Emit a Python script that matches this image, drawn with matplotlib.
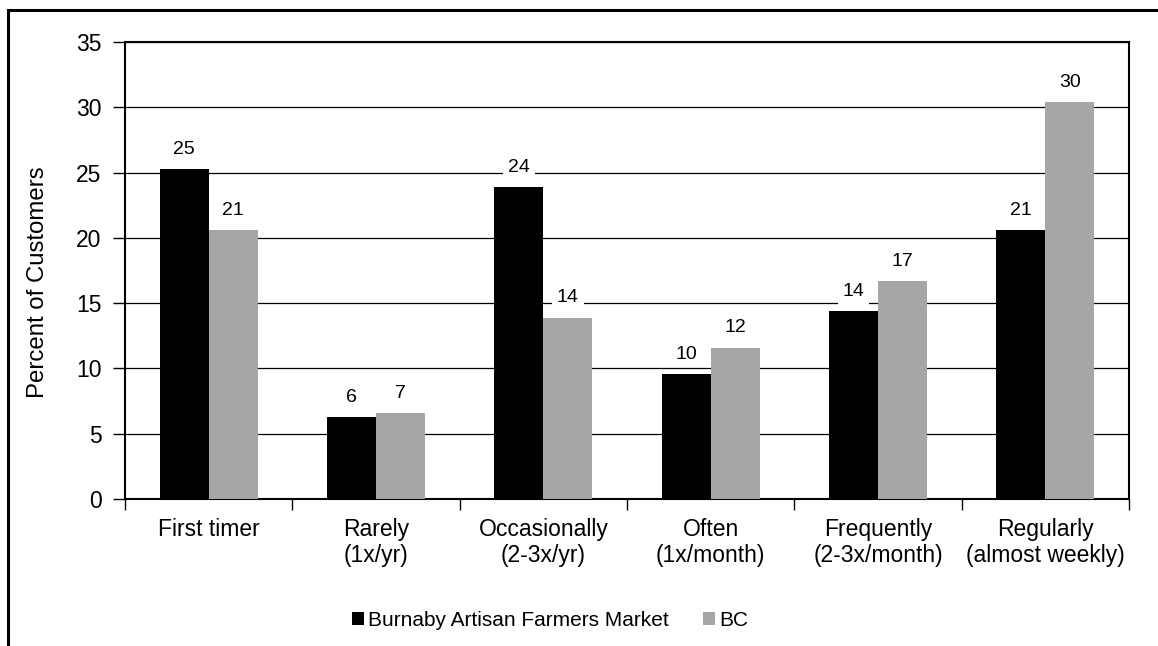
import numpy as np
import matplotlib
matplotlib.use("Agg")
import matplotlib.pyplot as plt
from matplotlib.lines import Line2D

plt.rcParams['font.family'] = ['Liberation Sans', 'DejaVu Sans']

categories = ['First timer', 'Rarely\n(1x/yr)', 'Occasionally\n(2-3x/yr)',
              'Often\n(1x/month)', 'Frequently\n(2-3x/month)', 'Regularly\n(almost weekly)']
burnaby = [25.3, 6.3, 23.9, 9.6, 14.4, 20.6]
bc = [20.6, 6.6, 13.9, 11.6, 16.7, 30.4]
series_names = ['Burnaby Artisan Farmers Market', 'BC']

fig = plt.figure(figsize=(11.58, 6.46), dpi=100)
ax = fig.add_axes([125 / 1158, 1 - 499 / 646, (1129 - 125) / 1158, (499 - 42) / 646])

x = np.arange(len(categories))
w = 0.293
b1 = ax.bar(x - w / 2, burnaby, w, color='black', label=series_names[0], zorder=3)
b2 = ax.bar(x + w / 2, bc, w, color='#a6a6a6', label=series_names[1], zorder=3)

for bars, vals in ((b1, burnaby), (b2, bc)):
    for rect, v in zip(bars, vals):
        ax.annotate(f'{v:.0f}', (rect.get_x() + rect.get_width() / 2, v),
                    xytext=(0, 8), textcoords='offset points', ha='center', va='bottom',
                    fontsize=14, zorder=4,
                    bbox=dict(boxstyle='square,pad=0.25', fc='white', ec='none'))

ax.set_ylim(0, 35)
ax.set_yticks(range(0, 36, 5))
ax.set_xlim(-0.5, len(categories) - 0.5)
ax.set_xticks(x)
ax.set_xticklabels(categories, fontsize=16.5, linespacing=1.15)
ax.set_xticks(np.arange(-0.5, len(categories)), minor=True)
ax.tick_params(axis='x', which='major', length=0, pad=14)
ax.tick_params(axis='x', which='minor', length=8, width=1, direction='out')
ax.tick_params(axis='y', length=9, width=1, direction='out', labelsize=16.5, pad=8)
ax.yaxis.grid(True, color='black', linewidth=0.9, zorder=0)
ax.set_axisbelow(True)
for s in ax.spines.values():
    s.set_linewidth(1.5)
    s.set_color('black')

fig.text(38 / 1158, 1 - 282 / 646, 'Percent of Customers', rotation=90,
         ha='center', va='center', fontsize=17.3)

fig.legend(loc='center', bbox_to_anchor=(550 / 1158, 1 - 620 / 646), ncol=2, frameon=False,
           fontsize=15, handlelength=0.6, handleheight=0.6, handletextpad=0.2,
           columnspacing=1.6)

# outer chart border (only left and top visible in the crop)
fig.add_artist(Line2D([8 / 1158, 8 / 1158], [0, 1 - 10 / 646], color='black', lw=2.2))
fig.add_artist(Line2D([8 / 1158, 1], [1 - 10 / 646, 1 - 10 / 646], color='black', lw=2.2))

fig.savefig('out.png', dpi=100)
